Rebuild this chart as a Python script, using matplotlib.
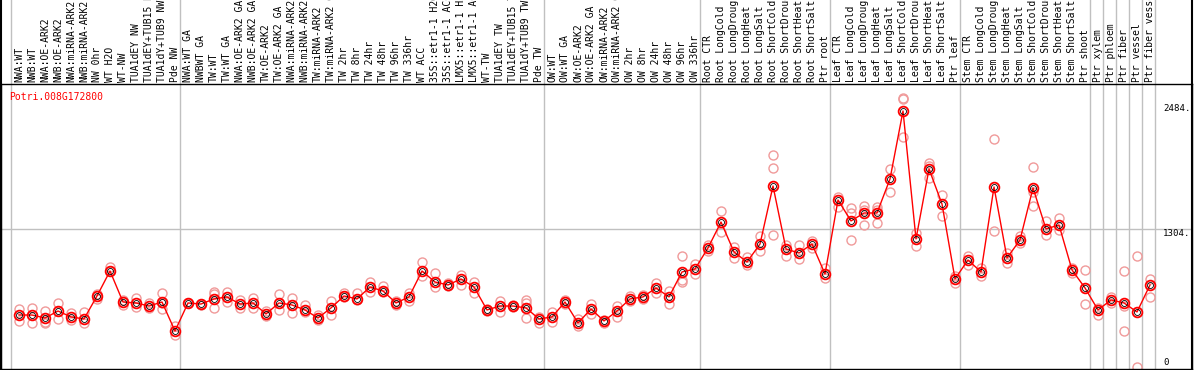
import matplotlib
matplotlib.use("Agg")
import matplotlib.pyplot as plt
import numpy as np

gene = "Potri.008G172800"

labels = [
    "NWA:WT", "NWB:WT", "NWA:OE-ARK2", "NWB:OE-ARK2", "NWA:miRNA-ARK2", "NWB:miRNA-ARK2",
    "NW 0hr", "WT H2O", "WT-NW", "TUA1dEY NW", "TUA1dEY+TUB15 NW", "TUA1dY+TUB9 NW", "Pde NW",
    "NWA:WT GA", "NWBWT GA", "TW:WT", "TW:WT GA", "NWA:OE-ARK2 GA", "NWB:OE-ARK2 GA",
    "TW:OE-ARK2", "TW:OE-ARK2 GA", "NWA:miRNA-ARK2 GA", "NWB:miRNA-ARK2 GA", "TW:miRNA-ARK2",
    "TW:miRNA-ARK2 GA", "TW 2hr", "TW 8hr", "TW 24hr", "TW 48hr", "TW 96hr", "TW 336hr",
    "WT ACC", "35S::etr1-1 H2O", "35S::etr1-1 ACC", "LMX5::etr1-1 H2O", "LMX5::etr1-1 ACC",
    "WT-TW", "TUA1dEY TW", "TUA1dEY+TUB15 TW", "TUA1dY+TUB9 TW", "Pde TW",
    "OW:WT", "OW:WT GA", "OW:OE-ARK2", "OW:OE-ARK2 GA", "OW:miRNA-ARK2", "OW:miRNA-ARK2 GA",
    "OW 2hr", "OW 8hr", "OW 24hr", "OW 48hr", "OW 96hr", "OW 336hr",
    "Root CTR", "Root LongCold", "Root LongDrought", "Root LongHeat", "Root LongSalt",
    "Root ShortCold", "Root ShortDrought", "Root ShortHeat", "Root ShortSalt", "Ptr root",
    "Leaf CTR", "Leaf LongCold", "Leaf LongDrought", "Leaf LongHeat", "Leaf LongSalt",
    "Leaf ShortCold", "Leaf ShortDrought", "Leaf ShortHeat", "Leaf ShortSalt", "Ptr leaf",
    "Stem CTR", "Stem LongCold", "Stem LongDrought", "Stem LongHeat", "Stem LongSalt",
    "Stem ShortCold", "Stem ShortDrought", "Stem ShortHeat", "Stem ShortSalt", "Ptr shoot",
    "Ptr xylem", "Ptr phloem", "Ptr fiber", "Ptr vessel", "Ptr fiber vessel",
]

# samples per block between the grey separators
group_sizes = [13, 28, 12, 10, 10, 10, 1, 1, 1, 1, 1]

means = [
    491, 491, 463, 529, 473, 454, 671, 907, 614, 605, 576, 614, 340,
    605, 595, 643, 662, 595, 605, 501, 605, 586, 539, 463, 558, 671, 643, 756, 718,
    605, 662, 907, 803, 775, 832, 756, 539, 576, 576, 558, 454,
    473, 614, 416, 548, 435, 529, 643, 662, 747, 662, 898, 926,
    1125, 1370, 1087, 992, 1162, 1710, 1115, 1077, 1162, 879,
    1578, 1380, 1455, 1455, 1777, 2419, 1210, 1871, 1540, 832,
    1011, 898, 1701, 1030, 1200, 1692, 1304, 1342, 917, 747,
    539, 633, 605, 520, 775,
]

reps = [
    [548, 435], [558, 416], [529, 425, 416], [605, 454], [510, 444], [520, 416],
    [690, 643], [945, 907], [633, 586], [652, 567], [605, 558], [699, 605, 548], [387, 302],
    [605, 600], [595, 590], [709, 690, 558], [709, 614], [633, 558], [652, 558],
    [529, 482], [690, 539], [652, 510], [586, 520], [491, 444], [624, 491],
    [699, 662], [699, 633], [803, 709], [765, 709], [624, 586], [699, 624],
    [992, 860], [888, 756], [794, 765], [869, 775], [803, 699], [548, 529],
    [624, 520], [586, 567], [633, 605, 463], [473, 416],
    [520, 425], [633, 595], [454, 387], [595, 501], [444, 416], [576, 473],
    [671, 624], [680, 643], [794, 699], [718, 595], [1049, 822, 803], [973, 879],
    [1153, 1096], [1474, 1276], [1134, 1030], [1040, 964], [1238, 1096],
    [2003, 1881, 1250], [1153, 1049], [1153, 1021], [1191, 1125], [936, 841],
    [1607, 1512], [1503, 1455, 1200], [1521, 1484, 1342], [1512, 1484, 1361],
    [1871, 1654], [2542, 2533, 2174], [1266, 1143], [1928, 1899, 1786], [1625, 1427],
    [860, 794],
    [1049, 964], [936, 860], [2155, 1285], [1077, 983], [1238, 1172],
    [1890, 1654, 1521], [1380, 1247], [1408, 1295], [936, 888], [917, 595],
    [558, 491], [662, 605], [907, 576, 340], [1049, 0], [832, 662],
]

ytick_vals = [2484, 1304, 0]

mono = "DejaVu Sans Mono"
grey = "#c0c0c0"

fig = plt.figure(figsize=(11.94, 3.70), dpi=100)
ax = fig.add_axes([1 / 1194, 1 / 370, 1191 / 1194, 285 / 370])

x = np.arange(len(means))
ax.set_xlim(-1.385, 90.23)
ax.set_ylim(-19, 2674)

# separators run up through the label strip
ext = 1 + 84 / 285
for b in np.cumsum([0] + group_sizes) - 1:
    ax.axvline(b + 0.385, ymin=0, ymax=ext, color=grey, lw=1, clip_on=False, zorder=1)
ax.axhline(ytick_vals[1], color=grey, lw=1, zorder=1)

for i, r in enumerate(reps):
    ax.plot([i] * len(r), r, "o", ms=6.5, mfc="none", mec="#f09a9a", mew=1.0, zorder=2)

ax.plot(x, means, "-", color="red", lw=1.0, zorder=3)
ax.plot(x, means, "o", ms=7, mfc="none", mec="red", mew=1.3, zorder=4)
ax.plot(x, means, "o", ms=4.3, mfc="none", mec="black", mew=0.6, zorder=5)

ax.xaxis.tick_top()
ax.set_xticks(x)
ax.set_xticklabels(labels, rotation=90, family=mono, fontsize=7.0)
ax.tick_params(axis="x", length=0, pad=1.5)
ax.set_yticks([])

for v in ytick_vals[:2]:
    ax.text(88.0, v, f"{v}.", family=mono, fontsize=6.6, ha="left", va="top")
ax.text(88.0, ytick_vals[2], "0", family=mono, fontsize=6.6, ha="left", va="bottom")

ax.text(-0.77, 2551, gene, color="red", family=mono, fontsize=7.0, ha="left", va="center")

for s in ax.spines.values():
    s.set_linewidth(1)
    s.set_color("black")
ax.plot([-1.385, -1.385], [-19, 2674 * ext], color="black", lw=1.5, clip_on=False)
ax.plot([90.23, 90.23], [-19, 2674 * ext], color="black", lw=1.5, clip_on=False)

fig.savefig("out.png", dpi=100)
